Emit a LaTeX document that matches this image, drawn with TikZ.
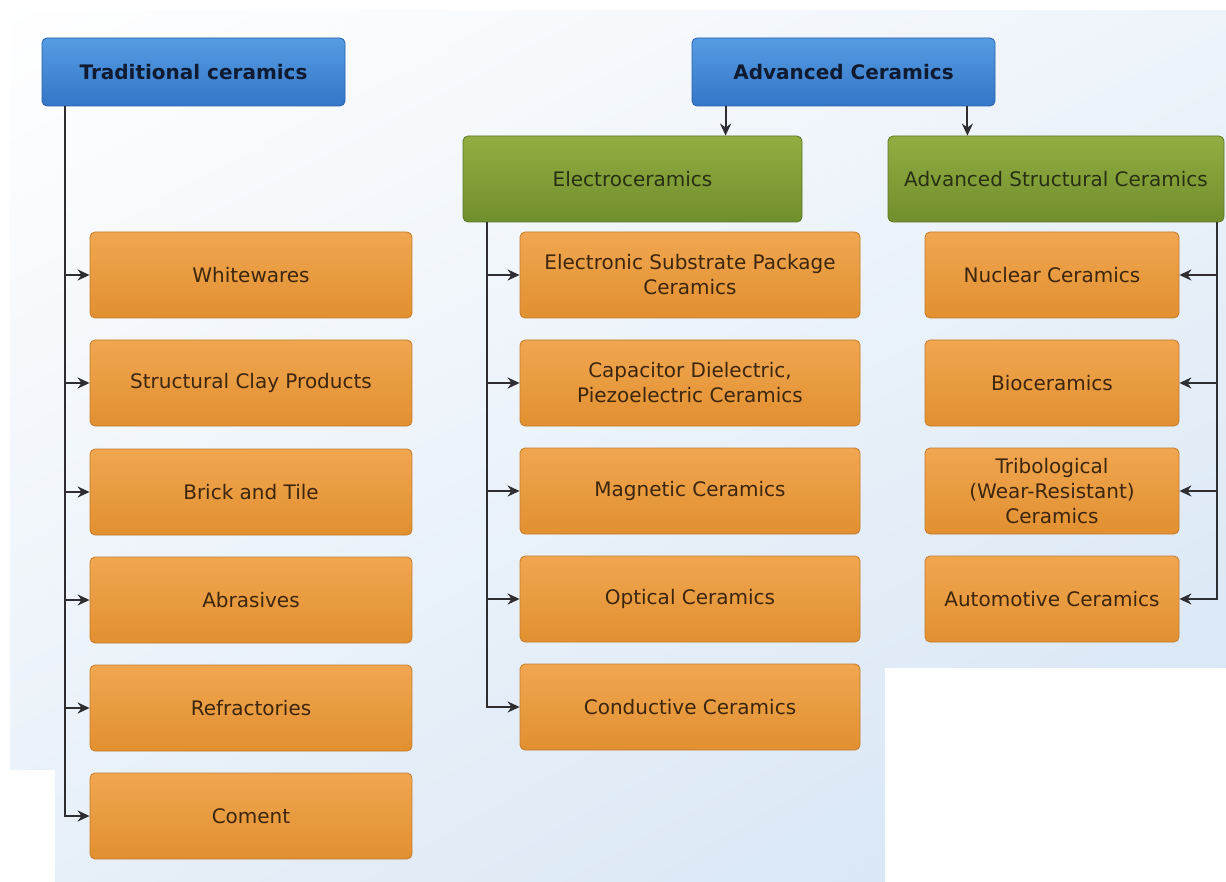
\documentclass[tikz,border=0pt]{standalone}
\usepackage{fontspec}
\usepackage{xcolor}
\usepackage{tikz}
\usetikzlibrary{arrows.meta, positioning, calc, shadings}

\newfontfamily\chartfont{DejaVu Sans}

\definecolor{blueTop}{RGB}{86,156,226}
\definecolor{blueBot}{RGB}{52,118,200}
\definecolor{blueEdge}{RGB}{40,96,170}
\definecolor{greenTop}{RGB}{146,174,66}
\definecolor{greenBot}{RGB}{112,142,44}
\definecolor{greenEdge}{RGB}{92,118,36}
\definecolor{orangeTop}{RGB}{240,166,80}
\definecolor{orangeBot}{RGB}{226,144,48}
\definecolor{orangeEdge}{RGB}{196,124,44}
\definecolor{bgRight}{RGB}{238,244,250}
\definecolor{bgLow}{RGB}{232,240,248}
\definecolor{bgDeep}{RGB}{212,228,244}
\definecolor{wireGray}{RGB}{45,45,50}
\definecolor{inkNavy}{RGB}{16,26,48}
\definecolor{inkOlive}{RGB}{40,48,20}
\definecolor{inkBrown}{RGB}{60,38,14}

\begin{document}
\begin{tikzpicture}[
  x=1pt, y=-1pt,
  every node/.style={font=\chartfont\fontsize{20}{25}\selectfont},
  box/.style={rectangle, rounded corners=5pt, align=center, inner sep=2pt,
              line width=0.8pt},
  topbox/.style={box, draw=blueEdge, top color=blueTop, bottom color=blueBot,
                 text=inkNavy, font=\chartfont\bfseries\fontsize{20}{25}\selectfont,
                 minimum width=303pt, minimum height=68pt},
  midbox/.style={box, draw=greenEdge, top color=greenTop, bottom color=greenBot,
                 text=inkOlive, minimum height=86pt},
  leaf/.style={box, draw=orangeEdge, top color=orangeTop, bottom color=orangeBot,
               text=inkBrown, minimum height=86pt},
  leafL/.style={leaf, minimum width=322pt},
  leafM/.style={leaf, minimum width=340pt},
  leafR/.style={leaf, minimum width=254pt},
  wire/.style={draw=wireGray, line width=2pt},
  arr/.style={wire, -{Stealth[length=12pt, width=11pt]}},
]
  % ── Backdrop ─────────────────────────────────────
  \shade[upper left=white, upper right=bgRight, lower left=bgLow, lower right=bgDeep]
    (0,0) rectangle (1226,882);
  \fill[white] (885,668) rectangle (1226,882);
  \fill[white] (0,0) rectangle (1226,10);
  \fill[white] (0,0) rectangle (10,770);
  \fill[white] (0,770) rectangle (55,882);

  % ── Heads ────────────────────────────────────────
  \node[topbox] (trad) at (193.5,72) {Traditional ceramics};
  \node[topbox] (adv)  at (843.5,72) {Advanced Ceramics};

  \node[midbox, minimum width=339pt] (elec)   at (632.5,179) {Electroceramics};
  \node[midbox, minimum width=336pt] (struct) at (1056,179)  {Advanced Structural Ceramics};

  % ── Traditional column ───────────────────────────
  \node[leafL] (white)  at (251,275) {Whitewares};
  \node[leafL] (clay)   at (251,383) {Structural Clay Products};
  \node[leafL] (brick)  at (251,492) {Brick and Tile};
  \node[leafL] (abras)  at (251,600) {Abrasives};
  \node[leafL] (refr)   at (251,708) {Refractories};
  \node[leafL] (cement) at (251,816) {Coment};

  % ── Electroceramics column ───────────────────────
  \node[leafM] (subst) at (690,275) {Electronic Substrate Package\\Ceramics};
  \node[leafM] (capac) at (690,383) {Capacitor Dielectric,\\Piezoelectric Ceramics};
  \node[leafM] (magn)  at (690,491) {Magnetic Ceramics};
  \node[leafM] (optic) at (690,599) {Optical Ceramics};
  \node[leafM] (cond)  at (690,707) {Conductive Ceramics};

  % ── Structural column ────────────────────────────
  \node[leafR] (nucl)  at (1052,275) {Nuclear Ceramics};
  \node[leafR] (bio)   at (1052,383) {Bioceramics};
  \node[leafR] (tribo) at (1052,491) {Tribological\\(Wear-Resistant)\\Ceramics};
  \node[leafR] (auto)  at (1052,599) {Automotive Ceramics};

  % ── Top-level split ──────────────────────────────
  \draw[arr] ([xshift=34pt]adv.south west) -- ([xshift=34pt]adv.south west |- elec.north);
  \draw[arr] ([xshift=-28pt]adv.south east) -- ([xshift=-28pt]adv.south east |- struct.north);

  % ── Trunk lines ──────────────────────────────────
  \foreach \kid in {white, clay, brick, abras, refr, cement}
    \draw[arr] ([xshift=23pt]trad.south west) |- (\kid.west);
  \foreach \kid in {subst, capac, magn, optic, cond}
    \draw[arr] ([xshift=24pt]elec.south west) |- (\kid.west);
  \foreach \kid in {nucl, bio, tribo, auto}
    \draw[arr] ([xshift=-7pt]struct.south east) |- (\kid.east);

  \useasboundingbox (0,0) rectangle (1226,882);
\end{tikzpicture}
\end{document}
